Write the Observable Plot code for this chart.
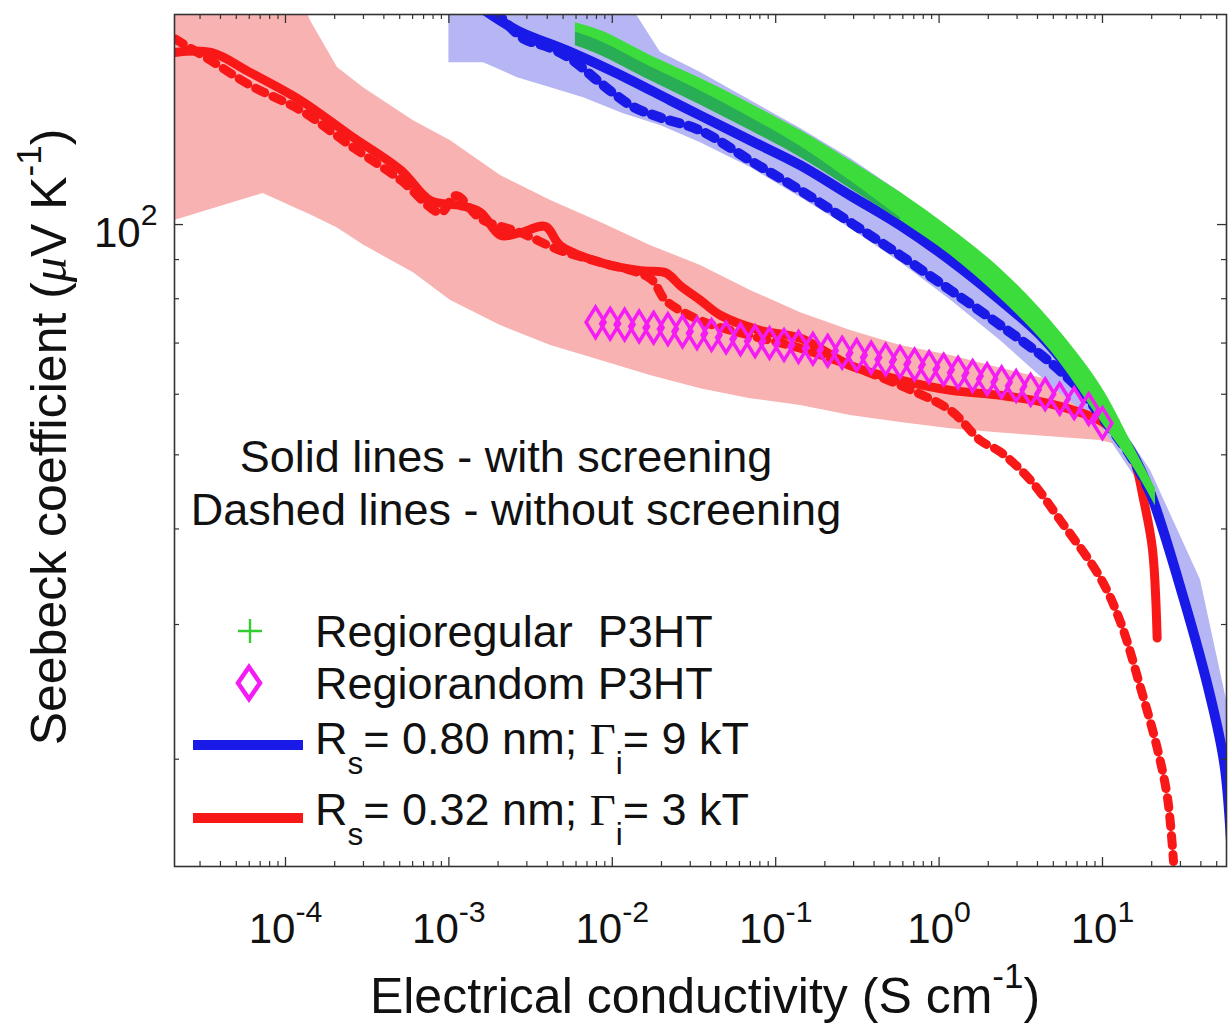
<!DOCTYPE html>
<html><head><meta charset="utf-8">
<script src="https://cdn.jsdelivr.net/npm/d3@7"></script>
<script src="https://cdn.jsdelivr.net/npm/@observablehq/plot@0.6"></script>
<style>
body{margin:0;background:#fff;}
#chart svg{display:block;}
</style>
</head><body><div id="chart"></div>
<script>
// ---------------- data ----------------
const xTickValues = [1e-4, 1e-3, 1e-2, 1e-1, 1, 10];
const yTickValues = [100];

// Red model: Rs = 0.32 nm, Gamma_i = 3 kT, with screening (solid)
const redSolidX = [2.1e-5, 3.5e-5, 6.1e-5, 1.24e-4, 2.5e-4, 5.1e-4, 7.7e-4, 1.18e-3, 1.56e-3, 2.07e-3, 2.74e-3, 3.9e-3, 4.8e-3, 8.5e-3, 0.0149, 0.0212, 0.0261, 0.0347, 0.0459, 0.0807, 0.142, 0.287, 0.581, 1.18, 2.38, 4.81, 9.72, 12.0, 15.5, 17.8, 20.2, 21.6];
const redSolidY = [167.9, 167.9, 158, 145.3, 130.7, 117.7, 107.5, 105.9, 103.7, 96.8, 97.6, 99.4, 93.9, 89.2, 87.0, 86.5, 83.2, 79.6, 76.1, 72.7, 71.0, 65.4, 62.6, 60.7, 59.8, 58.3, 55.4, 53.5, 49.4, 43.8, 37.7, 28.8];
// Red model without screening (dashed)
const redDashX = [2.1e-5, 3.5e-5, 6.1e-5, 1.24e-4, 2.5e-4, 5.1e-4, 8.9e-4, 1.10e-3, 1.56e-3, 2.74e-3, 4.8e-3, 8.5e-3, 0.0171, 0.0212, 0.0347, 0.0701, 0.142, 0.287, 0.581, 1.18, 1.79, 2.38, 3.63, 5.54, 9.72, 12.9, 17.1, 21.6, 25.0, 27.2];
const redDashY = [175, 163.8, 152, 141, 126.8, 114.2, 103.7, 109.1, 101.8, 97.6, 92.5, 89.2, 85.0, 79.6, 74.9, 71.6, 68.9, 65.4, 61.6, 57.1, 52.2, 50.4, 46.3, 41.0, 34.5, 30.2, 24.8, 20.7, 17.8, 14.7];
// Red shaded band
const redBandX  = [2.09e-5, 7.3e-5, 1.24e-4, 1.42e-4, 2.08e-4, 3.0e-4, 6.07e-4, 1.02e-3, 2.07e-3, 4.2e-3, 8.5e-3, 0.0171, 0.0347, 0.0701, 0.142, 0.287, 0.581, 1.18, 2.38, 4.81, 9.72, 12.9];
const redBandLo = [101.2, 109.8, 104.3, 103.0, 99.0, 94.0, 86.5, 79.6, 73.8, 69.5, 66.4, 63.5, 61.0, 59.2, 58.0, 56.3, 55.1, 54.1, 53.4, 52.8, 52.2, 51.4];
const redBandHi = [200, 200, 200, 184.8, 160.4, 151, 136.7, 128.8, 115.9, 107.5, 100.6, 93.9, 88.4, 82.0, 76.7, 72.7, 69.5, 67.4, 64.9, 62.6, 58.9, 55.4];

// Blue model: Rs = 0.80 nm, Gamma_i = 9 kT, with screening (solid)
const blueSolidX = [1.52e-3, 2.63e-3, 5.3e-3, 0.0108, 0.0227, 0.0347, 0.0701, 0.142, 0.287, 0.581, 1.18, 2.38, 4.18, 6.37, 9.72, 14.8, 19.7, 31.3, 45.8, 55.9, 62.5];
const blueSolidY = [193, 179.3, 168.8, 157.5, 145.3, 138.8, 128.8, 119.5, 109.1, 99.7, 89.7, 79.6, 71.6, 64.5, 57.1, 50.7, 44.5, 32.5, 24.1, 19.6, 14.3];
// Blue model without screening (dashed)
const blueDashX = [1.93e-3, 2.87e-3, 4.0e-3, 5.5e-3, 8.1e-3, 0.0102, 0.0135, 0.0197, 0.0347, 0.0701, 0.142, 0.287, 0.581, 1.18, 2.38, 4.81, 7.33, 9.72, 14.8, 19.7];
const blueDashY = [190, 175, 170.9, 165, 154.3, 148.4, 142.4, 138, 132.7, 121.2, 110.8, 100.6, 91.1, 82.0, 73.8, 66.0, 60.7, 56.3, 49.9, 44.5];
// Blue shaded band
const blueBandX  = [1.0e-3, 1.63e-3, 2.63e-3, 4.2e-3, 6.67e-3, 0.0117, 0.0197, 0.0347, 0.0701, 0.142, 0.287, 0.581, 1.18, 2.38, 4.81, 9.72, 19.7, 39.8, 57.4];
const blueBandLo = [162.8, 162.8, 155.6, 151.0, 146.5, 139.6, 134.7, 127.9, 118.7, 108.5, 98.8, 89.2, 79.6, 70.5, 61.6, 54.6, 43.6, 28.6, 18.8];
const blueBandHi = [200, 200, 200, 200, 200, 200, 168, 158, 145.3, 133.5, 122, 110.1, 98.2, 86.5, 73.8, 59.8, 47.7, 34.3, 23.9];

// Regioregular P3HT (dense + markers forming a band)
const rrX  = [5.95e-3, 8.5e-3, 0.0171, 0.0347, 0.0701, 0.142, 0.287, 0.581, 1.18, 2.38, 4.81, 9.72, 14.8, 21.1];
const rrLo = [171.4, 166.4, 154.3, 143.3, 132.7, 122.4, 111.4, 101.2, 91.1, 80.0, 68.4, 55.4, 48.9, 42.9];
const rrHi = [183.6, 179.3, 166.4, 155.2, 143.9, 132.7, 121.2, 110.1, 98.8, 87.5, 74.9, 61.6, 52.2, 45.2];
// darker lower stripe of the same marker cloud
const rrDarkX  = [5.95e-3, 8.5e-3, 0.0171, 0.0347, 0.0701, 0.142, 0.287, 0.581];
const rrDarkLo = [171.4, 166.4, 154.3, 143.3, 132.7, 122.4, 111.4, 101.2];
const rrDarkHi = [178.5, 173.5, 160.8, 149.5, 138.0, 126.5, 114.0, 102.0];

// Regiorandom P3HT (diamonds)
const rraX = [0.0079, 0.0097, 0.0119, 0.0146, 0.0179, 0.0219, 0.0269, 0.033, 0.0405, 0.0497, 0.0609, 0.0748, 0.0917, 0.1125, 0.138, 0.169, 0.208, 0.255, 0.313, 0.384, 0.471, 0.577, 0.708, 0.869, 1.066, 1.307, 1.604, 1.968, 2.414, 2.962, 3.634, 4.458, 5.469, 6.71, 8.23, 10.0];
const rraY = [74.5, 74.2, 74.0, 73.6, 73.3, 73.0, 72.5, 72.1, 71.7, 71.2, 70.8, 70.4, 70.0, 69.6, 69.2, 68.8, 68.4, 68.0, 67.5, 67.0, 66.6, 66.1, 65.6, 65.1, 64.6, 64.0, 63.4, 62.8, 62.2, 61.5, 60.8, 60.0, 59.2, 58.4, 57.4, 55.0];

// ---------------- build ----------------
const zip = (X, Y) => X.map((x, i) => ({x, y: Y[i]}));
const band = (X, L, Hh) => X.map((x, i) => ({x, lo: L[i], hi: Hh[i]}));

const W = 1231, H = 1023, mL = 174, mR = 5, mT = 14, mB = 157;
const fw = W - mL - mR, fh = H - mT - mB;
const xDomain = [2.093e-5, 57.4], yDomain = [14.48, 188.2];

const xMinor = [], yMinor = [];
for (let e = -5; e <= 1; e++) for (let m = 2; m <= 9; m++) { const v = m * 10 ** e; if (v > xDomain[0] && v < xDomain[1]) xMinor.push(v); }
for (let e = 1; e <= 2; e++) for (let m = 2; m <= 9; m++) { const v = m * 10 ** e; if (v > yDomain[0] && v < yDomain[1]) yMinor.push(v); }

const RED = "#f81818", BLUE = "#1a1ae8", GREEN = "#3ddc3d", MAG = "#f41cf4";
const tickCol = "#333";

const tallDiamond = {
  draw(ctx, size) {
    const r = Math.sqrt(size / Math.PI);
    ctx.moveTo(0, -r * 1.45); ctx.lineTo(r * 0.9, 0); ctx.lineTo(0, r * 1.45); ctx.lineTo(-r * 0.9, 0); ctx.closePath();
  }
};
const fmt = d => "10^" + Math.round(Math.log10(d));

const plot = Plot.plot({
  width: W, height: H,
  marginLeft: mL, marginRight: mR, marginTop: mT, marginBottom: mB,
  x: {type: "log", domain: xDomain},
  y: {type: "log", domain: yDomain},
  style: {fontFamily: "'Liberation Sans', Arial, Helvetica, sans-serif", background: "white", color: "#111"},
  marks: [
    Plot.areaY(band(redBandX, redBandLo, redBandHi), {x: "x", y1: "lo", y2: "hi", fill: "#f9b2b2", clip: true}),
    Plot.areaY(band(blueBandX, blueBandLo, blueBandHi), {x: "x", y1: "lo", y2: "hi", fill: "#b6b6f4", clip: true}),
    Plot.line(zip(redDashX, redDashY), {x: "x", y: "y", stroke: RED, strokeWidth: 9, strokeDasharray: "10,9", curve: "catmull-rom", clip: true}),
    Plot.line(zip(redSolidX, redSolidY), {x: "x", y: "y", stroke: RED, strokeWidth: 9, curve: "catmull-rom", clip: true}),
    Plot.line(zip(blueDashX, blueDashY), {x: "x", y: "y", stroke: BLUE, strokeWidth: 10, strokeDasharray: "10,9", curve: "catmull-rom", clip: true}),
    Plot.line(zip(blueSolidX, blueSolidY), {x: "x", y: "y", stroke: BLUE, strokeWidth: 10, curve: "catmull-rom", clip: true}),
    Plot.areaY(band(rrX, rrLo, rrHi), {x: "x", y1: "lo", y2: "hi", fill: GREEN, curve: "catmull-rom", clip: true}),
    Plot.areaY(band(rrDarkX, rrDarkLo, rrDarkHi), {x: "x", y1: "lo", y2: "hi", fill: "#26a65a", fillOpacity: 0.85, curve: "catmull-rom", clip: true}),
    Plot.dot(zip(rraX, rraY), {x: "x", y: "y", symbol: tallDiamond, r: 10.5, stroke: MAG, strokeWidth: 3.5, fill: "none", clip: true}),
    // inward ticks on all four sides
    Plot.ruleX(xTickValues, {x: d => d, insetTop: fh - 9, stroke: tickCol, strokeWidth: 1.3}),
    Plot.ruleX(xMinor, {x: d => d, insetTop: fh - 5, stroke: tickCol, strokeWidth: 1.2}),
    Plot.ruleX(xTickValues, {x: d => d, insetBottom: fh - 9, stroke: tickCol, strokeWidth: 1.3}),
    Plot.ruleX(xMinor, {x: d => d, insetBottom: fh - 5, stroke: tickCol, strokeWidth: 1.2}),
    Plot.ruleY(yTickValues, {y: d => d, insetRight: fw - 9, stroke: tickCol, strokeWidth: 1.3}),
    Plot.ruleY(yMinor, {y: d => d, insetRight: fw - 5, stroke: tickCol, strokeWidth: 1.2}),
    Plot.ruleY(yTickValues, {y: d => d, insetLeft: fw - 9, stroke: tickCol, strokeWidth: 1.3}),
    Plot.ruleY(yMinor, {y: d => d, insetLeft: fw - 5, stroke: tickCol, strokeWidth: 1.2}),
    Plot.frame({stroke: tickCol, strokeWidth: 1.6}),
    Plot.axisX({ticks: xTickValues, tickSize: 0, tickPadding: 47, fontSize: 42, tickFormat: fmt, label: null, fill: "#111"}),
    Plot.axisY({ticks: yTickValues, tickSize: 0, tickPadding: 17, fontSize: 42, tickFormat: fmt, label: null, dy: 9, fill: "#111"})
  ]
});

document.getElementById("chart").appendChild(plot);

// superscripts in tick labels
const NS = "http://www.w3.org/2000/svg";
plot.querySelectorAll("text, tspan").forEach(el => {
  if (el.children.length) return;
  const m = /^10\^(-?\d+)$/.exec(el.textContent.trim());
  if (!m) return;
  el.textContent = "10";
  const t = document.createElementNS(NS, "tspan");
  t.setAttribute("dy", "-0.72em");
  t.setAttribute("font-size", "0.72em");
  t.textContent = m[1];
  el.appendChild(t);
});

// rich text helper (subscripts / superscripts)
const SANS = "'Liberation Sans', Arial, Helvetica, sans-serif";
const SERIF = "'Liberation Serif', 'Times New Roman', serif";
function rich(parent, x, y, parts, size, anchor = "start", transform = null) {
  const t = parent.append("text")
    .attr("x", x).attr("y", y)
    .attr("font-size", size).attr("font-family", SANS)
    .attr("text-anchor", anchor).attr("fill", "#111")
    .attr("xml:space", "preserve").style("white-space", "pre");
  if (transform) t.attr("transform", transform);
  let cur = 0;
  for (const p of parts) {
    const off = p.sup ? -0.5 * size : p.sub ? 0.45 * size : 0;
    const ts = t.append("tspan").attr("dy", off - cur).text(p.t);
    cur = off;
    if (p.sup || p.sub) ts.attr("font-size", size * 0.7);
    if (p.serif) ts.attr("font-family", SERIF);
    if (p.italic) ts.attr("font-style", "italic");
  }
  return t;
}

const svg = d3.select(plot);
const g = svg.append("g");

// axis titles
rich(g, 705, 1013, [{t: "Electrical conductivity (S cm"}, {t: "-1", sup: true}, {t: ")"}], 50, "middle");
rich(g, 0, 0, [{t: "Seebeck coefficient ("}, {t: "\u03bc", serif: true, italic: true}, {t: "V K"}, {t: "-1", sup: true}, {t: ")"}], 50, "middle", "translate(66,437) rotate(-90)");

// in-plot annotation
rich(g, 506, 472, [{t: "Solid lines - with screening"}], 45, "middle");
rich(g, 516, 525, [{t: "Dashed lines - without screening"}], 45, "middle");

// legend
g.append("path").attr("d", "M238,631H262M250,619V643").attr("stroke", "#33cc33").attr("stroke-width", 2.4).attr("fill", "none");
rich(g, 315, 647, [{t: "Regioregular  P3HT"}], 45);
g.append("path").attr("d", "M249,667L260,683L249,699L238,683Z").attr("stroke", MAG).attr("stroke-width", 4.5).attr("fill", "none");
rich(g, 315, 699, [{t: "Regiorandom P3HT"}], 45);
g.append("line").attr("x1", 193).attr("x2", 303).attr("y1", 745).attr("y2", 745).attr("stroke", BLUE).attr("stroke-width", 10);
rich(g, 315, 754, [{t: "R"}, {t: "s", sub: true}, {t: "= 0.80 nm; "}, {t: "\u0393", serif: true}, {t: "i", sub: true}, {t: "= 9 kT"}], 45);
g.append("line").attr("x1", 193).attr("x2", 303).attr("y1", 818).attr("y2", 818).attr("stroke", RED).attr("stroke-width", 10);
rich(g, 315, 825, [{t: "R"}, {t: "s", sub: true}, {t: "= 0.32 nm; "}, {t: "\u0393", serif: true}, {t: "i", sub: true}, {t: "= 3 kT"}], 45);
</script>
</body></html>
